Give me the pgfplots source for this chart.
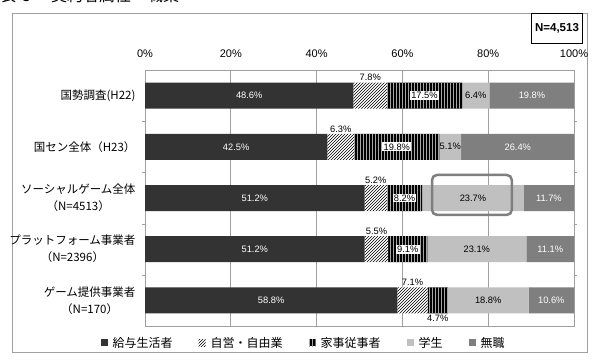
\documentclass[border=0pt]{standalone}
\usepackage{pgfplots}
\pgfplotsset{compat=1.18}
\usepackage{pgfplotstable}
\usepackage{fontspec}
\setmainfont{Liberation Sans}
\newfontfamily\jp{Noto Sans CJK JP}
\usetikzlibrary{patterns}
\definecolor{cDark}{HTML}{333333}
\definecolor{cLight}{HTML}{C0C0C0}
\definecolor{cGray}{HTML}{7F7F7F}
\definecolor{cFrame}{HTML}{A0A0A0}

\pgfplotstableread{
row kyuyo jiei kaji gakusei mushoku
0 48.6 7.8 17.5 6.4 19.8
1 42.5 6.3 19.8 5.1 26.4
2 51.2 5.2 8.2 23.7 11.7
3 51.2 5.5 9.1 23.1 11.1
4 58.8 7.1 4.7 18.8 10.6
}\datatable

\begin{document}
\begin{tikzpicture}[
  lbl/.style={font=\fontsize{9.3}{9.3}\selectfont, inner sep=1pt},
  lblW/.style={lbl, text=white},
  lblB/.style={lbl, text=black},
  lblBox/.style={lbl, text=black, fill=white, inner sep=1.2pt}]
\useasboundingbox (0pt,0pt) rectangle (597pt,359pt);
\clip (0pt,0pt) rectangle (597pt,359pt);
\fill[white] (0pt,0pt) rectangle (597pt,359pt);
\draw[cFrame, line width=0.8pt] (12.5pt,7pt) rectangle (587pt,346pt);
\node[anchor=mid west, font=\jp\fontsize{16}{16}\selectfont, inner sep=0pt] at (0pt,360pt) {表\hspace{6pt}3\hspace{20pt}契約者属性・職業};
\node[draw=black, line width=0.8pt, font=\bfseries\fontsize{11.5}{11.5}\selectfont, minimum width=51pt, minimum height=30pt, inner sep=0pt] at (557pt,331pt) {N=4,513};
\begin{axis}[
  at={(145pt,33pt)}, anchor=south west,
  scale only axis, width=429pt, height=256pt,
  xbar stacked, bar width=26pt,
  xmin=0, xmax=100, ymin=-0.5, ymax=4.5, y dir=reverse,
  xtick={0,20,40,60,80,100},
  xticklabels={0\%,20\%,40\%,60\%,80\%,100\%},
  xticklabel pos=upper,
  xticklabel style={font=\fontsize{11}{11}\selectfont, yshift=9pt},
  ytick={0,1,2,3,4},
  yticklabels={{国勢調査(H22)},{国セン全体（H23）},{ソーシャルゲーム全体\\（N=4513）},{プラットフォーム事業者\\（N=2396）},{ゲーム提供事業者\\（N=170）}},
  yticklabel style={font=\jp\fontsize{11.5}{17}\selectfont, align=center, xshift=-6pt},
  minor ytick={0.5,1.5,2.5,3.5},
  major tick length=0pt, minor tick length=3pt, tick align=outside,
  minor tick style={cFrame},
  xmajorgrids, major grid style={cFrame, line width=0.8pt},
  axis line style={cFrame, line width=0.8pt},
  legend style={at={(0.37,-0.066)}, anchor=center, draw=none, fill=none,
    font=\jp\fontsize{12}{12}\selectfont, legend columns=-1,
    /tikz/every even column/.append style={column sep=24pt}},
  legend image code/.code={\path[#1, draw=none] (0pt,-3.5pt) rectangle (7pt,3.5pt); \path (10pt,0pt);},
]
\addplot[fill=cDark, draw=none] table[x=kyuyo,y=row]{\datatable};
\addplot[fill=white, draw=none, postaction={pattern=north east lines, pattern color=black}] table[x=jiei,y=row]{\datatable};
\addplot[fill=black, draw=none, postaction={pattern=vertical lines, pattern color=white!65!black}] table[x=kaji,y=row]{\datatable};
\addplot[fill=cLight, draw=none] table[x=gakusei,y=row]{\datatable};
\addplot[fill=cGray, draw=none] table[x=mushoku,y=row]{\datatable};
\legend{給与生活者,自営・自由業,家事従事者,学生,無職}

\coordinate (a1) at (axis cs:24.3,0);
\coordinate (b1) at (axis cs:52.5,-0.26);
\coordinate (c1) at (axis cs:65.15,0);
\coordinate (d1) at (axis cs:77.1,0);
\coordinate (e1) at (axis cs:90.2,0);
\coordinate (a2) at (axis cs:21.25,1);
\coordinate (b2) at (axis cs:45.65,0.74);
\coordinate (c2) at (axis cs:58.7,1);
\coordinate (d2) at (axis cs:71.15,1);
\coordinate (e2) at (axis cs:86.9,1);
\coordinate (a3) at (axis cs:25.6,2);
\coordinate (b3) at (axis cs:53.8,1.74);
\coordinate (c3) at (axis cs:60.5,2);
\coordinate (d3) at (axis cs:76.45,2);
\coordinate (e3) at (axis cs:94.15,2);
\coordinate (a4) at (axis cs:25.6,3);
\coordinate (b4) at (axis cs:53.95,2.74);
\coordinate (c4) at (axis cs:61.25,3);
\coordinate (d4) at (axis cs:77.35,3);
\coordinate (e4) at (axis cs:94.45,3);
\coordinate (a5) at (axis cs:29.4,4);
\coordinate (b5) at (axis cs:62.35,3.74);
\coordinate (c5) at (axis cs:68.25,4.26);
\coordinate (d5) at (axis cs:80.0,4);
\coordinate (e5) at (axis cs:94.7,4);
\coordinate (hl1) at (axis cs:66.9,1.55);
\coordinate (hl2) at (axis cs:85.5,2.33);
\end{axis}
% row 1
\node[lblW] at (a1) {48.6\%};
\node[lblB, anchor=south] at (b1) {7.8\%};
\node[lblBox] at (c1) {17.5\%};
\node[lblB] at (d1) {6.4\%};
\node[lblW] at (e1) {19.8\%};
% row 2
\node[lblW] at (a2) {42.5\%};
\node[lblB, anchor=south] at (b2) {6.3\%};
\node[lblBox] at (c2) {19.8\%};
\node[lblB] at (d2) {5.1\%};
\node[lblW] at (e2) {26.4\%};
% row 3
\node[lblW] at (a3) {51.2\%};
\node[lblB, anchor=south] at (b3) {5.2\%};
\node[lblBox] at (c3) {8.2\%};
\node[lblB] at (d3) {23.7\%};
\node[lblW] at (e3) {11.7\%};
% row 4
\node[lblW] at (a4) {51.2\%};
\node[lblB, anchor=south] at (b4) {5.5\%};
\node[lblBox] at (c4) {9.1\%};
\node[lblB] at (d4) {23.1\%};
\node[lblW] at (e4) {11.1\%};
% row 5
\node[lblW] at (a5) {58.8\%};
\node[lblB, anchor=south] at (b5) {7.1\%};
\node[lblB, anchor=north] at (c5) {4.7\%};
\node[lblB] at (d5) {18.8\%};
\node[lblW] at (e5) {10.6\%};
\draw[cGray, line width=2.5pt, rounded corners=5pt] (hl1) rectangle (hl2);
\end{tikzpicture}
\end{document}
